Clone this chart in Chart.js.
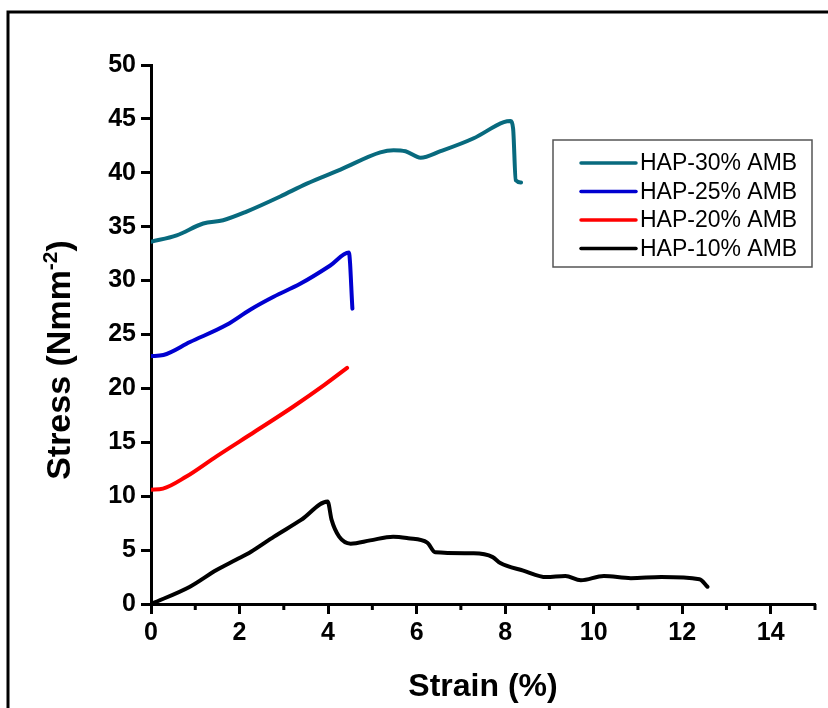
<!DOCTYPE html>
<html>
<head>
<meta charset="utf-8">
<script src="https://cdn.jsdelivr.net/npm/chart.js@4.4.1/dist/chart.umd.min.js"></script>
<style>
  html, body { margin: 0; padding: 0; background: #fff; }
  #wrap { width: 828px; height: 708px; }
</style>
</head>
<body>
<div id="wrap"><canvas id="chart" width="828" height="708"></canvas></div>
<script>
// Series
const seriesLabels = ['HAP-30% AMB', 'HAP-25% AMB', 'HAP-20% AMB', 'HAP-10% AMB'];

const strain30 = [0, 0.58, 1.18, 1.63, 2.16, 2.92, 3.52, 4.28, 5.18, 5.48, 5.75, 6.09, 6.54, 7.29, 7.97, 8.12, 8.18, 8.24, 8.36];
const stress30 = [33.6, 34.2, 35.3, 35.6, 36.4, 37.8, 39.0, 40.3, 41.9, 42.1, 42.0, 41.4, 42.0, 43.2, 44.7, 44.8, 44.1, 39.3, 39.1];

const strain25 = [0, 0.28, 0.88, 1.71, 2.24, 2.77, 3.37, 4.05, 4.47, 4.55];
const stress25 = [23.0, 23.1, 24.3, 25.9, 27.3, 28.5, 29.7, 31.4, 32.6, 27.4];

const strain20 = [0, 0.27, 0.79, 1.48, 2.35, 3.21, 3.91, 4.43];
const stress20 = [10.6, 10.7, 11.8, 13.7, 16.0, 18.3, 20.3, 21.9];

const strain10 = [0, 0.88, 1.48, 1.92, 2.26, 2.78, 3.39, 3.99, 4.08, 4.25, 4.51, 4.95, 5.47, 5.81, 6.24, 6.42, 7.29, 7.72, 7.89, 8.41, 8.93, 9.36, 9.71, 10.23, 10.84, 11.53, 12.39, 12.57];
const stress10 = [0, 1.6, 3.15, 4.1, 4.85, 6.25, 7.8, 9.5, 7.8, 6.25, 5.6, 5.9, 6.25, 6.1, 5.7, 4.8, 4.7, 4.35, 3.8, 3.1, 2.5, 2.6, 2.2, 2.6, 2.4, 2.5, 2.3, 1.6];

const colors = ['#086a7e', '#0000d0', '#ff0000', '#000000'];

const xTicksMax = 15;
const yTicksMax = 50;

function pts(xs, ys) {
    return xs.map((x, i) => ({ x: x, y: ys[i] }));
}

const FONT = "'Liberation Sans', Arial, sans-serif";

// outer frame (only top and left edges show in the picture)
const framePlugin = {
    id: 'frame',
    beforeDraw(chart) {
        const c = chart.ctx;
        c.save();
        c.fillStyle = '#fff';
        c.fillRect(0, 0, chart.width, chart.height);
        c.strokeStyle = '#000';
        c.lineWidth = 3;
        c.beginPath();
        c.moveTo(8, chart.height + 5);
        c.lineTo(8, 12);
        c.lineTo(chart.width + 5, 12);
        c.stroke();
        c.restore();
    }
};

// short minor ticks on the x axis at odd strain values
const minorTicks = {
    id: 'minorTicks',
    afterDraw(chart) {
        const sx = chart.scales.x;
        const c = chart.ctx;
        c.save();
        c.strokeStyle = '#000';
        c.lineWidth = 3;
        for (let v = 1; v <= xTicksMax; v += 2) {
            const px = sx.getPixelForValue(v);
            c.beginPath();
            c.moveTo(px, sx.top);
            c.lineTo(px, sx.top + 6);
            c.stroke();
        }
        c.restore();
    }
};

// y title with superscript
const yTitle = {
    id: 'yTitle',
    afterDraw(chart) {
        const c = chart.ctx;
        const main = 'Stress (Nmm';
        const sup = '-2';
        const end = ')';
        c.save();
        c.translate(58, 360);
        c.rotate(-Math.PI / 2);
        c.fillStyle = '#000';
        c.textBaseline = 'alphabetic';
        c.font = 'bold 34px ' + FONT;
        const w1 = c.measureText(main).width;
        const w3 = c.measureText(end).width;
        c.font = 'bold 21px ' + FONT;
        const w2 = c.measureText(sup).width;
        let x = -(w1 + w2 + w3) / 2;
        c.font = 'bold 34px ' + FONT;
        c.fillText(main, x, 12);
        x += w1;
        c.font = 'bold 21px ' + FONT;
        c.fillText(sup, x, -1);
        x += w2;
        c.font = 'bold 34px ' + FONT;
        c.fillText(end, x, 12);
        c.restore();
    }
};

// boxed legend inside the plot
const boxLegend = {
    id: 'boxLegend',
    afterDraw(chart) {
        const c = chart.ctx;
        c.save();
        c.strokeStyle = '#555';
        c.lineWidth = 1.5;
        c.strokeRect(553, 140, 259, 127);
        c.font = '23px ' + FONT;
        c.textBaseline = 'middle';
        chart.data.datasets.forEach((ds, i) => {
            const y = 163 + i * 28.5;
            c.strokeStyle = ds.borderColor;
            c.lineWidth = 3.5;
            c.lineCap = 'round';
            c.beginPath();
            c.moveTo(581, y);
            c.lineTo(636, y);
            c.stroke();
            c.fillStyle = '#000';
            c.fillText(ds.label, 640, y + 1);
        });
        c.restore();
    }
};

const datasets = [
    pts(strain30, stress30),
    pts(strain25, stress25),
    pts(strain20, stress20),
    pts(strain10, stress10)
].map((d, i) => ({
    label: seriesLabels[i],
    data: d,
    borderColor: colors[i],
    backgroundColor: colors[i],
    borderWidth: 4,
    pointRadius: 0,
    cubicInterpolationMode: 'monotone',
    borderCapStyle: 'round',
    borderJoinStyle: 'round',
    fill: false
}));

new Chart(document.getElementById('chart').getContext('2d'), {
    type: 'line',
    data: { datasets: datasets },
    options: {
        responsive: false,
        animation: false,
        layout: { padding: { top: 65, right: 13, left: 0, bottom: 0 } },
        plugins: {
            legend: { display: false },
            tooltip: { enabled: false }
        },
        scales: {
            x: {
                type: 'linear',
                min: 0,
                max: xTicksMax,
                afterFit(s) { s.height = 104; },
                border: { display: true, color: '#000', width: 3 },
                grid: {
                    drawOnChartArea: false,
                    tickLength: 10,
                    tickWidth: 3,
                    tickColor: ctx => (ctx.tick && ctx.tick.value % 2 === 0) ? '#000' : 'rgba(0,0,0,0)'
                },
                ticks: {
                    stepSize: 1,
                    padding: 4,
                    color: '#000',
                    maxRotation: 0,
                    autoSkip: false,
                    font: { family: FONT, size: 25, weight: 'bold' },
                    callback: v => (v % 2 === 0 ? v : '')
                },
                title: {
                    display: true,
                    text: 'Strain (%)',
                    color: '#000',
                    font: { family: FONT, size: 32, weight: 'bold' },
                    padding: { top: 0, bottom: 2 }
                }
            },
            y: {
                min: 0,
                max: yTicksMax,
                afterFit(s) { s.width = 151; },
                border: { display: true, color: '#000', width: 3 },
                grid: {
                    drawOnChartArea: false,
                    tickLength: 10,
                    tickWidth: 3,
                    tickColor: '#000'
                },
                ticks: {
                    stepSize: 5,
                    padding: 5,
                    color: '#000',
                    font: { family: FONT, size: 25, weight: 'bold' }
                }
            }
        }
    },
    plugins: [framePlugin, minorTicks, yTitle, boxLegend]
});
</script>
</body>
</html>
